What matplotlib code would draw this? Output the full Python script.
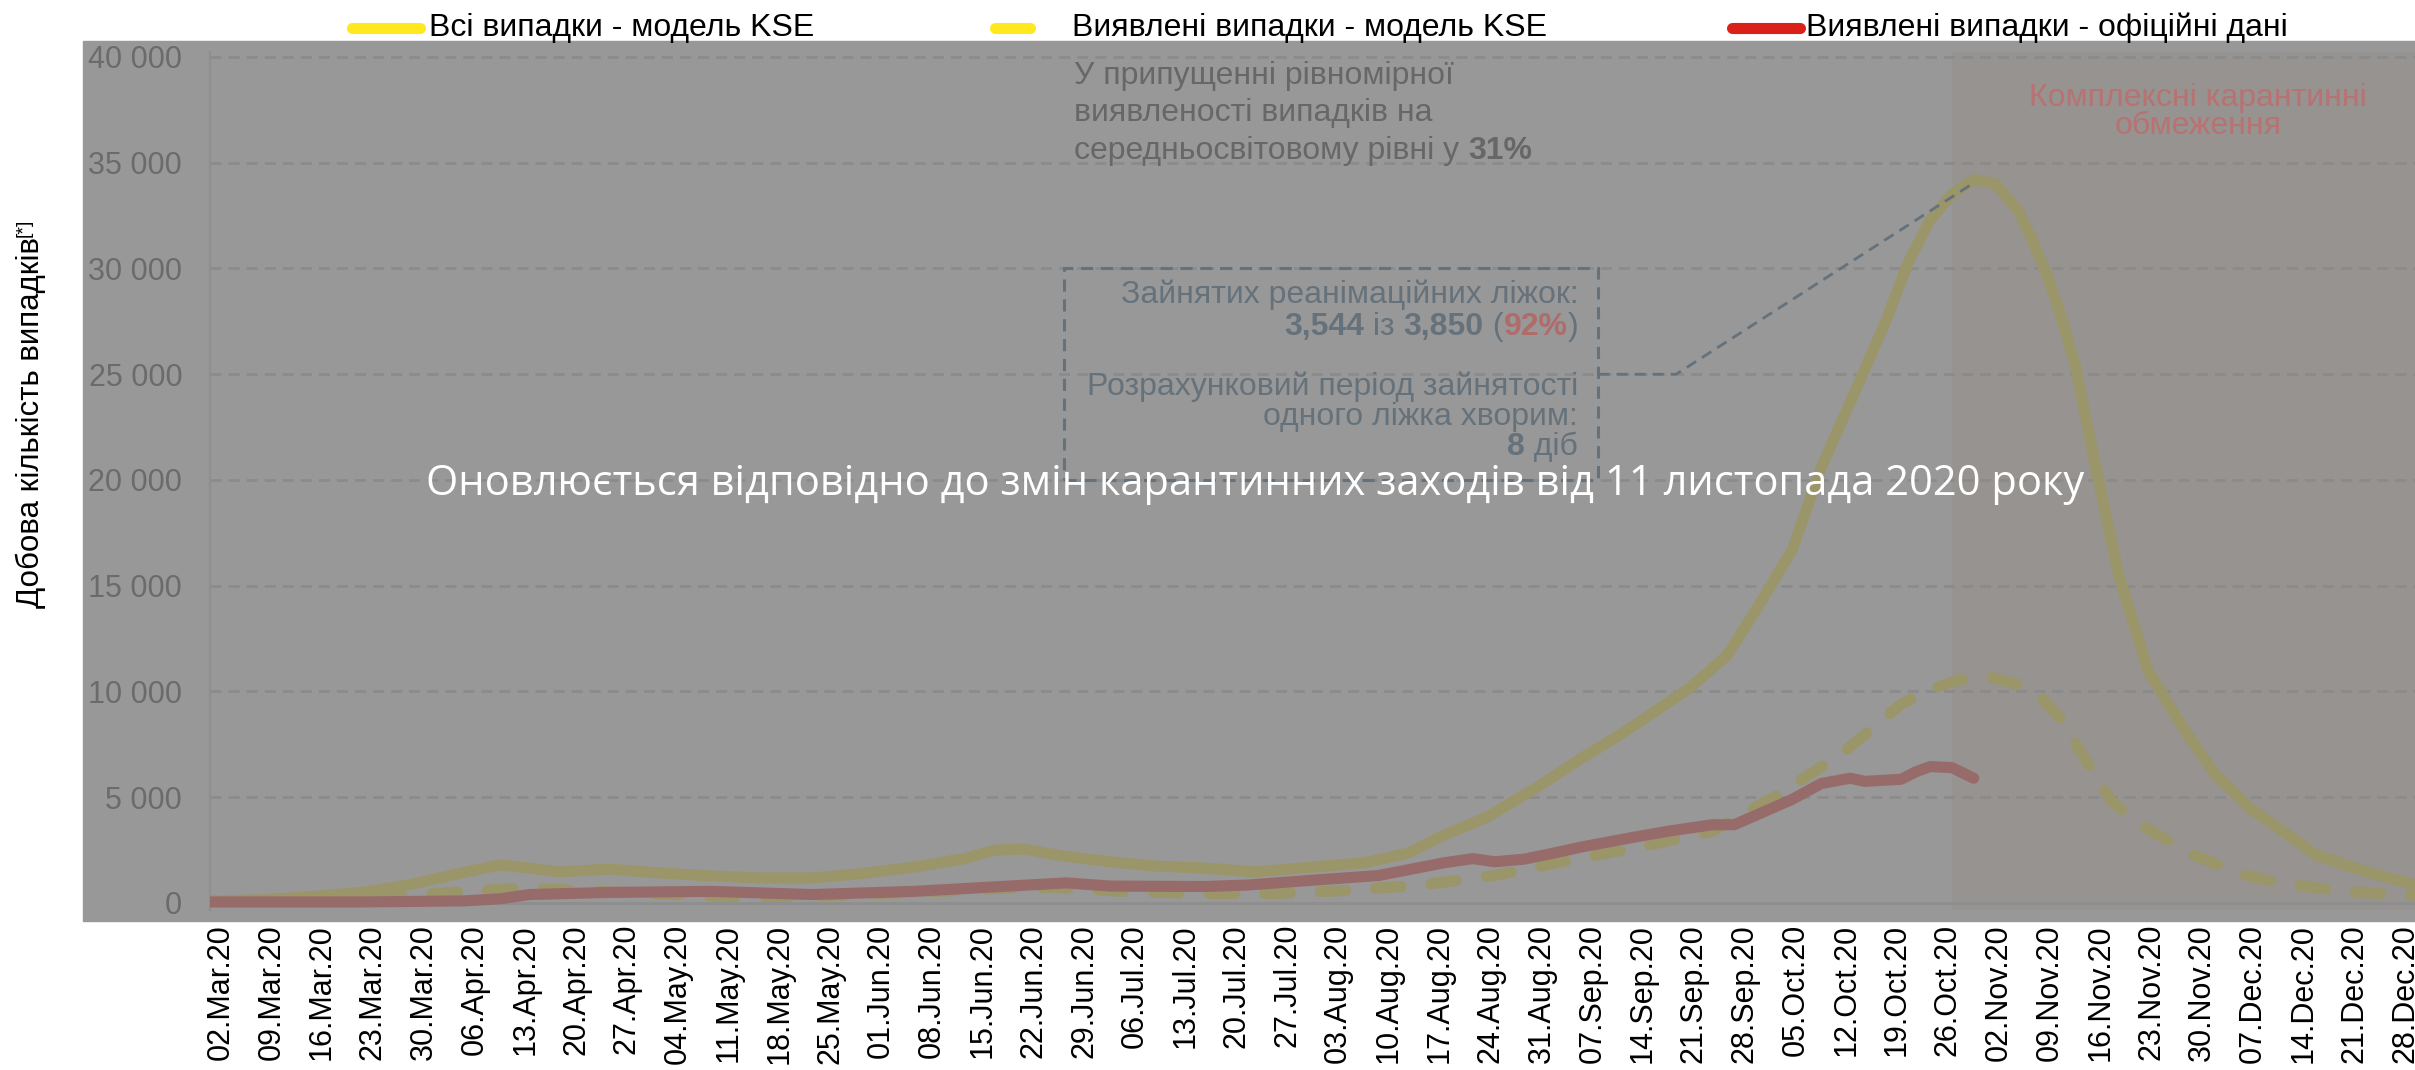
import numpy as np
import matplotlib
matplotlib.use('Agg')
import matplotlib.pyplot as plt
from matplotlib.patches import Rectangle
from matplotlib.lines import Line2D
from matplotlib.transforms import ScaledTranslation

plt.rcParams['font.family'] = ['Liberation Sans', 'DejaVu Sans']

W, H = 2415, 1070


def fx(px):
    return px / W


def fy(py):
    return 1 - py / H


# weekly tick labels (x in days from 02.Mar.20)
week_labels = ['02.Mar.20', '09.Mar.20', '16.Mar.20', '23.Mar.20', '30.Mar.20',
               '06.Apr.20', '13.Apr.20', '20.Apr.20', '27.Apr.20', '04.May.20',
               '11.May.20', '18.May.20', '25.May.20', '01.Jun.20', '08.Jun.20',
               '15.Jun.20', '22.Jun.20', '29.Jun.20', '06.Jul.20', '13.Jul.20',
               '20.Jul.20', '27.Jul.20', '03.Aug.20', '10.Aug.20', '17.Aug.20',
               '24.Aug.20', '31.Aug.20', '07.Sep.20', '14.Sep.20', '21.Sep.20',
               '28.Sep.20', '05.Oct.20', '12.Oct.20', '19.Oct.20', '26.Oct.20',
               '02.Nov.20', '09.Nov.20', '16.Nov.20', '23.Nov.20', '30.Nov.20',
               '07.Dec.20', '14.Dec.20', '21.Dec.20', '28.Dec.20']
week_days = [7 * i for i in range(len(week_labels))]

# all cases - KSE model
all_days = [0, 7, 14, 21, 28, 35, 40, 44, 48, 55, 62, 69, 76, 83, 90, 97, 104,
            108, 112, 118, 124, 130, 137, 144, 152, 159, 165, 170, 176, 183, 189,
            194, 198, 204, 209, 213, 218, 222, 227, 231, 234, 237, 240, 243, 246,
            249, 251, 253, 255, 257, 260, 263, 267, 272, 276, 281, 286, 290, 295,
            300, 304]
all_vals = [100, 150, 300, 500, 900, 1450, 1800, 1650, 1470, 1600, 1420, 1280,
            1180, 1180, 1400, 1700, 2100, 2500, 2550, 2200, 1950, 1750, 1650,
            1470, 1700, 1900, 2350, 3200, 4070, 5500, 6850, 7900, 8800, 10200,
            11700, 13850, 16700, 20600, 24450, 27600, 30300, 32300, 33500, 34200,
            34000, 32800, 31400, 29800, 27800, 25400, 20300, 15500, 11000, 8200,
            6200, 4500, 3300, 2300, 1700, 1200, 850]

# detected cases - KSE model
det_days = [0, 14, 21, 28, 33, 43, 50, 60, 72, 85, 100, 110, 116, 126, 137, 147,
            157, 167, 177, 187, 197, 207, 216, 225, 233, 237, 241, 245, 249, 252,
            255, 258, 262, 266, 273, 280, 285, 294, 304]
det_vals = [50, 100, 200, 350, 500, 700, 600, 450, 300, 350, 550, 700, 750, 550,
            450, 450, 600, 850, 1300, 2000, 2650, 3400, 5100, 7100, 9400, 10100,
            10550, 10700, 10350, 9800, 8700, 7000, 4800, 3700, 2300, 1350, 950,
            550, 350]

# detected cases - official data
off_days = [0, 21, 35, 40, 44, 55, 69, 83, 97, 109, 118, 124, 137, 143, 152, 161,
            170, 174, 177, 181, 185, 189, 196, 201, 207, 210, 215, 218, 222, 226,
            228, 233, 235, 237, 240, 243]
off_vals = [50, 50, 100, 200, 400, 500, 550, 400, 550, 780, 950, 800, 780, 850,
            1080, 1300, 1900, 2100, 1950, 2070, 2350, 2650, 3100, 3400, 3700, 3700,
            4450, 4900, 5650, 5900, 5750, 5850, 6200, 6450, 6400, 5900]

y_ticks = list(range(0, 40001, 5000))
lockdown_start = 240

c_yel = '#9b9669'
c_red = '#976b6a'
c_grid = '#8b8b8b'
c_slate = '#65727c'

fig = plt.figure(figsize=(24.15, 10.70), dpi=100)
fig.patches.append(Rectangle((fx(83), fy(921)), fx(2415) - fx(83), (921 - 41) / H,
                             transform=fig.transFigure, color='#989898', zorder=-1))

ax = fig.add_axes([fx(210), fy(910), (2415 - 210) / W, (910 - 52) / H])
ax.set_facecolor('none')
ax.set_xlim(0, 303.8)
ax.set_ylim(-331, 40236)

for s in ['top', 'right', 'bottom']:
    ax.spines[s].set_visible(False)
ax.spines['left'].set_color('#8f8f8f')
ax.spines['left'].set_linewidth(1.5)

ax.axvspan(lockdown_start, 320, color='#969390', lw=0, zorder=0.5)
for v in y_ticks[1:]:
    ax.axhline(v, color=c_grid, lw=2, ls=(0, (4, 2.5)), zorder=1)
ax.axhline(0, color='#8e8e8e', lw=2, zorder=1)

ax.plot(all_days, all_vals, color=c_yel, lw=8, solid_capstyle='round',
        solid_joinstyle='round', zorder=3)
ax.plot(det_days, det_vals, color=c_yel, lw=8, ls=(0, (2.3, 2.7)),
        dash_capstyle='round', dash_joinstyle='round', zorder=3)
ax.plot(off_days, off_vals, color=c_red, lw=8, solid_capstyle='round',
        solid_joinstyle='round', zorder=3.5)

ax.set_xticks(week_days)
ax.set_xticklabels(week_labels, rotation=90, fontsize=22, color='black')
ax.set_yticks(y_ticks)
ax.set_yticklabels([f'{v:,}'.replace(',', ' ') for v in y_ticks], fontsize=22,
                   color='#6b6b6b')
ax.tick_params(axis='x', length=0, pad=10)
ax.tick_params(axis='y', length=0, pad=20)

# nudge the date labels a little to the right, like the original
shift = ScaledTranslation(0.105, 0, fig.dpi_scale_trans)
for lab in ax.get_xticklabels():
    lab.set_transform(lab.get_transform() + shift)

# assumption note
note_kw = dict(fontsize=23, color='#676767', ha='left', va='bottom', zorder=5)
ax.text(119.1, 38400, 'У припущенні рівномірної', **note_kw)
ax.text(119.1, 36650, 'виявленості випадків на', **note_kw)
t = ax.text(119.1, 34850, 'середньосвітовому рівні у ', **note_kw)
ax.annotate('31%', xy=(1, 0), xycoords=t, fontweight='bold', **note_kw)

# lockdown label
ax.text(273.9, 37400, 'Комплексні карантинні\nобмеження', fontsize=23,
        color='#b87272', ha='center', va='center', linespacing=0.95, zorder=5)

# ICU box
ax.add_patch(Rectangle((117.7, 20000), 191.3 - 117.7, 10000, fill=False,
                       edgecolor=c_slate, lw=2.2, ls=(0, (4, 2.5)), zorder=4))
ax.plot([191.3, 202, 242.8], [25000, 25000, 34000], color=c_slate, lw=2,
        ls=(0, (4, 2.5)), zorder=4)

bx = 188.5
fs_box = 23
box_kw = dict(fontsize=fs_box, color=c_slate, zorder=5)
ax.text(bx, 28750, 'Зайнятих реанімаційних ліжок:', ha='right', va='center', **box_kw)
prev = ax.text(bx, 27230, ')', ha='right', va='center', **box_kw)
pieces = [('92%', 'bold', '#b06b6b'), (' (', 'normal', c_slate),
          ('3,850', 'bold', c_slate), (' із ', 'normal', c_slate),
          ('3,544', 'bold', c_slate)]
for txt, wt, col in pieces:
    prev = ax.annotate(txt, xy=(0, 0), xycoords=prev, ha='right', va='bottom',
                       fontsize=fs_box, fontweight=wt, color=col, zorder=5)
ax.text(bx, 24400, 'Розрахунковий період зайнятості', ha='right', va='center', **box_kw)
ax.text(bx, 22980, 'одного ліжка хворим:', ha='right', va='center', **box_kw)
prev = ax.text(bx, 21560, ' діб', ha='right', va='center', **box_kw)
ax.annotate('8', xy=(0, 0), xycoords=prev, ha='right', va='bottom', fontsize=fs_box,
            fontweight='bold', color=c_slate, zorder=5)

# legend
legend_y = fy(28)
fig.add_artist(Line2D([fx(352), fx(420)], [legend_y, legend_y], color='#ffe81e',
                      lw=8, solid_capstyle='round'))
fig.text(fx(429), legend_y, 'Всі випадки - модель KSE', fontsize=23, va='center')
fig.add_artist(Line2D([fx(995), fx(1030)], [legend_y, legend_y], color='#ffe81e',
                      lw=8, solid_capstyle='round'))
fig.text(fx(1072), legend_y, 'Виявлені випадки - модель KSE', fontsize=23, va='center')
fig.add_artist(Line2D([fx(1732), fx(1800)], [legend_y, legend_y], color='#d92119',
                      lw=8, solid_capstyle='round'))
fig.text(fx(1806), legend_y, 'Виявлені випадки - офіційні дані', fontsize=23, va='center')

# y label with superscript
yl = fig.text(fx(31), fy(422), 'Добова кількість випадків', rotation=90,
              fontsize=22.5, ha='center', va='center')
fig.add_artist(matplotlib.text.Annotation('[*]', xy=(0, 1), xycoords=yl,
                                          rotation=90, fontsize=14, ha='left',
                                          va='bottom', annotation_clip=False))

# overlay notice
fig.text(fx(1255), fy(484),
         'Оновлюється відповідно до змін карантинних заходів від 11 листопада 2020 року',
         fontsize=30, color='white', ha='center', va='center',
         family=['Open Sans', 'DejaVu Sans'], zorder=10)

fig.savefig('out.png', dpi=100)
